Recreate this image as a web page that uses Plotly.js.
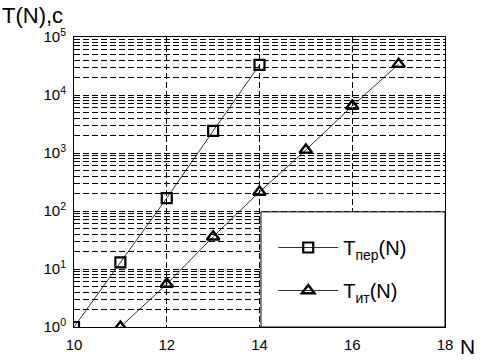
<!DOCTYPE html>
<html>
<head>
<meta charset="utf-8">
<script src="https://cdn.plot.ly/plotly-3.0.1.min.js"></script>
<style>html,body{margin:0;padding:0;background:#fff}#chart{width:480px;height:360px}</style>
</head>
<body>
<div id="chart"></div>
<script>
var nPer = [10, 11, 12, 13, 14];
var tPer = [1, 13, 167, 2400, 33000];
var nIt = [11, 12, 13, 14, 15, 16, 17];
var tIt = [1, 5.5, 36, 213, 1130, 6450, 34000];
var yTickVals = [1, 10, 100, 1000, 10000, 100000];
var yTickText = ['10<sup>0</sup>', '10<sup>1</sup>', '10<sup>2</sup>', '10<sup>3</sup>', '10<sup>4</sup>', '10<sup>5</sup>'];
var xTickVals = [10, 12, 14, 16, 18];
var namePer = 'T<sub>пер</sub>(N)';
var nameIt = 'T<sub>ит</sub>(N)';

var dash = '6px,3px';
var traces = [
  {x: nPer, y: tPer, name: namePer, mode: 'lines+markers', legendgroup: 'a',
   line: {color: 'black', width: 0.8},
   marker: {symbol: 'square-open', size: 10, color: 'black', line: {width: 2.2, color: 'black'}}},
  {x: nIt, y: tIt, name: nameIt, mode: 'lines+markers', legendgroup: 'b',
   line: {color: 'black', width: 0.8},
   marker: {symbol: 'triangle-up-open', size: 11, color: 'black', line: {width: 2.4, color: 'black'}}}
];
var layout = {
  width: 480, height: 360,
  margin: {l: 74, r: 35, t: 37, b: 33},
  paper_bgcolor: 'white', plot_bgcolor: 'white',
  font: {family: 'Liberation Sans, Arial, sans-serif', color: 'black', size: 15},
  showlegend: true,
  legend: {x: 0.537, y: 0.2, xanchor: 'left', yanchor: 'middle', bgcolor: 'rgba(0,0,0,0)',
           borderwidth: 0, font: {size: 20}, traceorder: 'grouped', tracegroupgap: 14,
           itemwidth: 60},
  xaxis: {range: [10, 18], tickvals: xTickVals, ticks: '', showline: true, mirror: true,
          linecolor: 'black', linewidth: 1, showgrid: true, gridcolor: 'black', gridwidth: 1,
          griddash: dash, zeroline: false, ticklabelstandoff: 4, fixedrange: true},
  yaxis: {type: 'log', range: [0, 5], tickvals: yTickVals, ticktext: yTickText, ticks: '',
          showline: true, mirror: true, linecolor: 'black', linewidth: 1,
          showgrid: true, gridcolor: 'black', gridwidth: 1, griddash: dash, zeroline: false,
          ticklabelstandoff: 4,
          minor: {dtick: 'D1', showgrid: true, gridcolor: 'black', gridwidth: 1, griddash: dash, ticks: ''}},
  shapes: [{type: 'rect', xref: 'paper', yref: 'paper', x0: 0.504, x1: 1, y0: 0, y1: 0.397,
            fillcolor: 'white', line: {color: 'black', width: 1}, layer: 'above'}],
  annotations: [
    {text: 'T(N),с', xref: 'paper', yref: 'paper', x: -74/371, y: 1 + 36/290, xanchor: 'left', yanchor: 'top',
     showarrow: false, font: {size: 22}},
    {text: 'N', xref: 'paper', yref: 'paper', x: 1 + 13/371, y: -33/290, xanchor: 'left', yanchor: 'bottom',
     showarrow: false, font: {size: 21}}
  ]
};
Plotly.newPlot('chart', traces, layout, {staticPlot: true});
</script>
</body>
</html>
